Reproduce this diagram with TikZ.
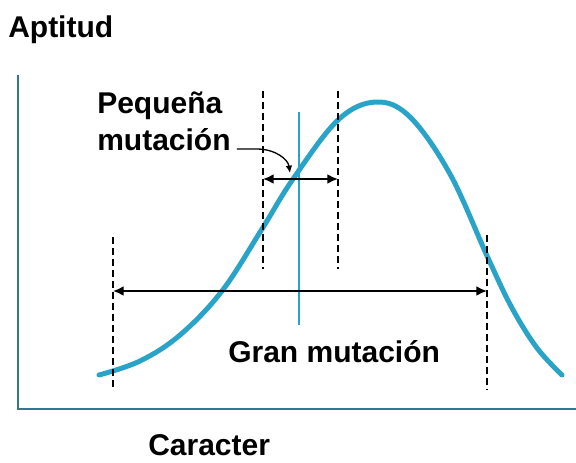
\documentclass[tikz,border=0pt]{standalone}
\usepackage{fontspec}
\setmainfont{Liberation Sans}
\usetikzlibrary{arrows.meta}
\definecolor{curveblue}{RGB}{41,163,200}
\definecolor{axisblue}{RGB}{45,120,150}

\begin{document}
\begin{tikzpicture}[x=0.75pt,y=-0.75pt,
  lbl/.style={font=\fontsize{22.5}{27}\selectfont\bfseries, inner sep=0pt, anchor=base west},
  guide/.style={black, line width=1.5pt, dash pattern=on 5.25pt off 3pt},
  span/.style={black, line width=1.5pt, {Latex[length=8pt,width=7.5pt]}-{Latex[length=8pt,width=7.5pt]}}]
  \useasboundingbox (0,0) rectangle (576,462);

  % axes
  \coordinate (origin) at (18,409);
  \draw[axisblue, line width=1.5pt] (18,75) -- (origin) -- (576,409);

  % fitness curve
  \draw[curveblue, line width=3.75pt, line cap=round]
    plot[smooth, tension=0.6] coordinates {(99,375) (140,361) (180,335) (222,291)
      (262,229) (293,179) (338,120) (376,102) (410,117) (450,174) (488,258) (512,308) (537,348) (562,375)};
  \draw[curveblue, line width=1.1pt] (299,112) -- (299,325);

  % guides
  \coordinate (gl-top) at (113,237);
  \coordinate (gl-bot) at (113,390);
  \coordinate (gr-top) at (487,235);
  \coordinate (gr-bot) at (487,390);
  \coordinate (pl-top) at (263,91);
  \coordinate (pl-bot) at (263,269);
  \coordinate (pr-top) at (338,91);
  \coordinate (pr-bot) at (338,269);
  \draw[guide] (gl-top) -- (gl-bot);
  \draw[guide] (gr-top) -- (gr-bot);
  \draw[guide] (pl-top) -- (pl-bot);
  \draw[guide] (pr-top) -- (pr-bot);

  % spans
  \coordinate (gl) at (113,291);
  \coordinate (gr) at (487,291);
  \coordinate (pl) at (263,179);
  \coordinate (pr) at (338,179);
  \draw[span] (gl) -- (gr);
  \draw[span] (pl) -- (pr);

  % labels
  \node[lbl] (aptitud) at (8,37) {Aptitud};
  \node[lbl] (peq) at (97,113) {Pequeña};
  \node[lbl] (mut) at (97,150) {mutación};
  \node[lbl] (gran) at (228,362) {Gran mutación};
  \node[lbl] (caracter) at (148,455) {Caracter};

  % pointer
  \coordinate (ptip) at (290,173);
  \draw[black, line width=1pt, -{Latex[length=5.5pt,width=5pt]}]
    ([shift={(6,-1)}]mut.base east) -- ++(20,0) .. controls +(18,0) and +(-2,-14) .. (ptip);
\end{tikzpicture}
\end{document}
